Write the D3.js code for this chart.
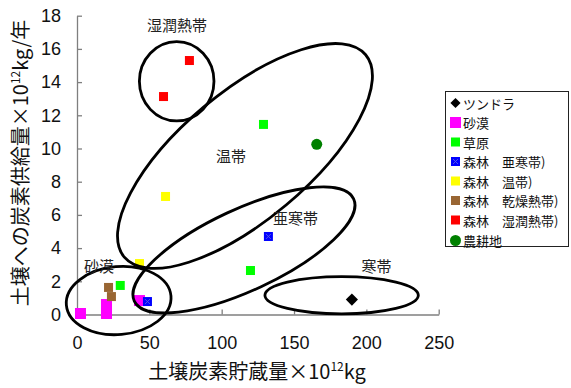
<!DOCTYPE html>
<html><head><meta charset="utf-8">
<script src="https://cdn.jsdelivr.net/npm/d3@7"></script>
<style>
html,body{margin:0;padding:0;background:#fff;}
svg{display:block;}
</style></head>
<body>
<svg id="chart" width="571" height="388"></svg>
<script>
// ---- data ----
const seriesNames = ["ツンドラ","砂漠","草原","森林\u3000亜寒帯)","森林\u3000温帯)","森林\u3000乾燥熱帯)","森林\u3000湿潤熱帯)","農耕地"];
const seriesColors = ["#000000","#ff00ff","#00ff00","#0000ff","#ffff00","#996633","#ff0000","#008000"];
const seriesShapes = ["diamond","bigsquare","square","squarex","square","square","square","circle"];
const storage = [
  [190],
  [2.4, 20.4, 20.4, 43.2],
  [29.9, 119.9, 128.9],
  [48.7, 132.3],
  [43.2, 61.2],
  [21.8, 23.8],
  [59.8, 77.7],
  [165.7]
];
const supply = [
  [0.9],
  [0.06, 0.6, 0.06, 0.84],
  [1.75, 2.65, 11.45],
  [0.78, 4.70],
  [3.07, 7.11],
  [1.63, 1.08],
  [13.13, 15.30],
  [10.25]
];
const xTicks = [0, 50, 100, 150, 200, 250];
const yTicks = [0, 2, 4, 6, 8, 10, 12, 14, 16, 18];
const zoneNames = ["湿潤熱帯","温帯","亜寒帯","砂漠","寒帯"];
const zoneCx = [68.9, 116.1, 115.4, 28.8, 182.9];
const zoneCy = [14.05, 9.55, 3.89, 0.84, 1.16];
const labelX = [69.1, 106.4, 151, 15.2, 207.1];
const labelY = [17.44, 9.55, 5.87, 2.98, 2.98];

// ---- shape parameters (pixels) ----
const zoneRx = [37.3, 157.5, 121, 52.5, 76.7];
const zoneRy = [39.7, 64, 40.6, 34, 18.7];
const zoneRot = [0, -40, -25, -5, 0];

const svg = d3.select("#chart");
const mLeft = 77, mRight = 438.7, mTop = 15.7, mBottom = 314.5;
const x = d3.scaleLinear().domain([0, 250]).range([mLeft, mRight]);
const y = d3.scaleLinear().domain([0, 18]).range([mBottom, mTop]);

const numFont = "'Liberation Sans', Arial, sans-serif";
const jpFont = "'Noto Sans CJK JP', 'Noto Sans', sans-serif";
const axisColor = "#7f7f7f";

// axes
const yAxis = svg.append("g").attr("transform", `translate(${mLeft},0)`)
  .call(d3.axisLeft(y).tickValues(yTicks).tickSizeInner(-5).tickSizeOuter(0).tickPadding(16));
const xAxis = svg.append("g").attr("transform", `translate(0,${mBottom})`)
  .call(d3.axisBottom(x).tickValues(xTicks).tickSizeInner(-5).tickSizeOuter(0).tickPadding(22));
[yAxis, xAxis].forEach(g => {
  g.select(".domain").attr("stroke", axisColor).attr("stroke-width", 1.3);
  g.selectAll(".tick line").attr("stroke", axisColor).attr("stroke-width", 1.3);
  g.selectAll(".tick text").attr("fill", "#111").style("font-family", numFont).style("font-size", "18px");
});

function drawMarker(g, px, py, shape, color, legend) {
  if (shape === "diamond") {
    const h = legend ? 3.6 : 4.3;
    g.append("rect").attr("x", px - h).attr("y", py - h).attr("width", 2 * h).attr("height", 2 * h)
      .attr("transform", `rotate(45,${px},${py})`).attr("fill", color);
  } else if (shape === "circle") {
    g.append("circle").attr("cx", px).attr("cy", py).attr("r", 5.5).attr("fill", color);
  } else {
    const s = shape === "bigsquare" ? 11 : 9;
    g.append("rect").attr("x", px - s / 2).attr("y", py - s / 2).attr("width", s).attr("height", s).attr("fill", color);
    if (shape === "squarex") {
      g.append("path").attr("d", `M${px-2.5},${py-2.5}L${px+2.5},${py+2.5}M${px+2.5},${py-2.5}L${px-2.5},${py+2.5}`)
        .attr("stroke", "#5a5ae0").attr("stroke-width", 0.9);
    }
  }
}

// markers
const markers = svg.append("g");
seriesNames.forEach((name, i) => {
  storage[i].forEach((v, j) => {
    drawMarker(markers, x(v), y(supply[i][j]), seriesShapes[i], seriesColors[i], false);
  });
});

// zone ellipses and labels
const zones = svg.append("g");
zoneNames.forEach((n, i) => {
  zones.append("ellipse")
    .attr("transform", `translate(${x(zoneCx[i])},${y(zoneCy[i])}) rotate(${zoneRot[i]})`)
    .attr("rx", zoneRx[i]).attr("ry", zoneRy[i])
    .attr("fill", "none").attr("stroke", "#000").attr("stroke-width", 2.8);
  svg.append("text").attr("x", x(labelX[i])).attr("y", y(labelY[i]))
    .attr("text-anchor", "middle").attr("dominant-baseline", "central")
    .style("font-family", jpFont).style("font-size", "15px").attr("fill", "#222").text(n);
});

// axis titles
const xt = svg.append("text").attr("x", 257).attr("y", 379).attr("text-anchor", "middle")
  .style("font-family", jpFont).style("font-size", "20px").attr("fill", "#111");
xt.append("tspan").text("土壌炭素貯蔵量×10");
xt.append("tspan").attr("dy", -8).style("font-size", "12px").text("12");
xt.append("tspan").attr("dy", 8).text("kg");

const yt = svg.append("text").attr("transform", "translate(28,163) rotate(-90)").attr("text-anchor", "middle")
  .style("font-family", jpFont).style("font-size", "20px").attr("fill", "#111");
yt.append("tspan").text("土壌への炭素供給量×10");
yt.append("tspan").attr("dy", -8).style("font-size", "12px").text("12");
yt.append("tspan").attr("dy", 8).text("kg/年");

// legend
const lg = svg.append("g");
lg.append("rect").attr("x", 445.5).attr("y", 91.5).attr("width", 123).attr("height", 155)
  .attr("fill", "#fff").attr("stroke", "#222").attr("stroke-width", 1);
seriesNames.forEach((n, i) => {
  const cy = 103 + i * 19.5 + (i === 7 ? 1 : 0);
  drawMarker(lg, 455.5, cy, seriesShapes[i], seriesColors[i], true);
  lg.append("text").attr("x", 463).attr("y", cy).attr("dominant-baseline", "central")
    .style("font-family", jpFont).style("font-size", "13px").attr("fill", "#111").text(n);
});
</script>
</body></html>
